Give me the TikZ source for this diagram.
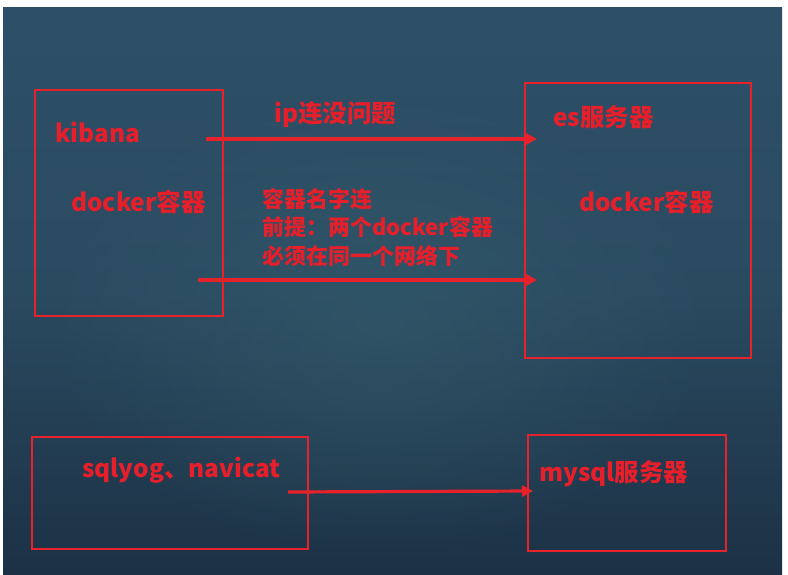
\documentclass[tikz,border=0pt]{standalone}
\usepackage{fontspec}
\setmainfont{Noto Sans CJK SC}
\usetikzlibrary{arrows.meta,fadings}
\definecolor{redline}{HTML}{E8222B}
\definecolor{redtext}{HTML}{E61F2A}
\definecolor{bgtop}{HTML}{2D5068}
\definecolor{bgmid}{HTML}{2A4A60}
\definecolor{bgbot}{HTML}{1C3145}
\definecolor{glow}{HTML}{37606F}
\tikzfading[name=glowfade, inner color=transparent!0, outer color=transparent!100]
\tikzset{
  box/.style={draw=redline, line width=2.8pt},
  lbl/.style={text=redtext, font=\bfseries\fontsize{24.5}{28}\selectfont, inner sep=0pt, anchor=west},
  sml/.style={text=redtext, font=\bfseries\fontsize{22}{28.5}\selectfont, inner sep=0pt, anchor=north west, align=left},
  arr/.style={draw=redline, line width=3.2pt, -{Triangle[length=11pt,width=11pt]}}
}
\begin{document}
\begin{tikzpicture}[x=1pt,y=-1pt]
\useasboundingbox (0,0) rectangle (788,574);
\fill[white] (0,0) rectangle (788,574);
\shade[top color=bgtop, bottom color=bgbot, middle color=bgmid] (3,7) rectangle (782,574);
\fill[glow, path fading=glowfade, fill opacity=0.5] (380,320) ellipse (340 and 240);
% boxes
\draw[box] (35,90) rectangle (223,316);
\draw[box] (525,83) rectangle (751,358);
\draw[box] (32,437) rectangle (308,549);
\draw[box] (528,435) rectangle (726,551);
% coordinates
\coordinate (a1s) at (206,139);
\coordinate (a1e) at (537,139);
\coordinate (a2s) at (198,280);
\coordinate (a2e) at (537,280);
\coordinate (a3s) at (288,492);
\coordinate (a3e) at (533,491);
% texts
\node[lbl] (t1) at (55,132) {kibana};
\node[lbl] (t2) at (71,202) {docker容器};
\node[lbl] (t3) at (553,117) {es服务器};
\node[lbl] (t4) at (579,202) {docker容器};
\node[lbl] (t5) at (274,115) {ip连没问题};
\node[sml] (t6) at (262,188) {容器名字连\\前提：两个docker容器\\必须在同一个网络下};
\node[lbl] (t7) at (82,470) {sqlyog、navicat};
\node[lbl] (t8) at (539,474) {mysql服务器};
% arrows
\draw[arr] (a1s) -- (a1e);
\draw[arr] (a2s) -- (a2e);
\draw[arr] (a3s) -- (a3e);
\end{tikzpicture}
\end{document}
